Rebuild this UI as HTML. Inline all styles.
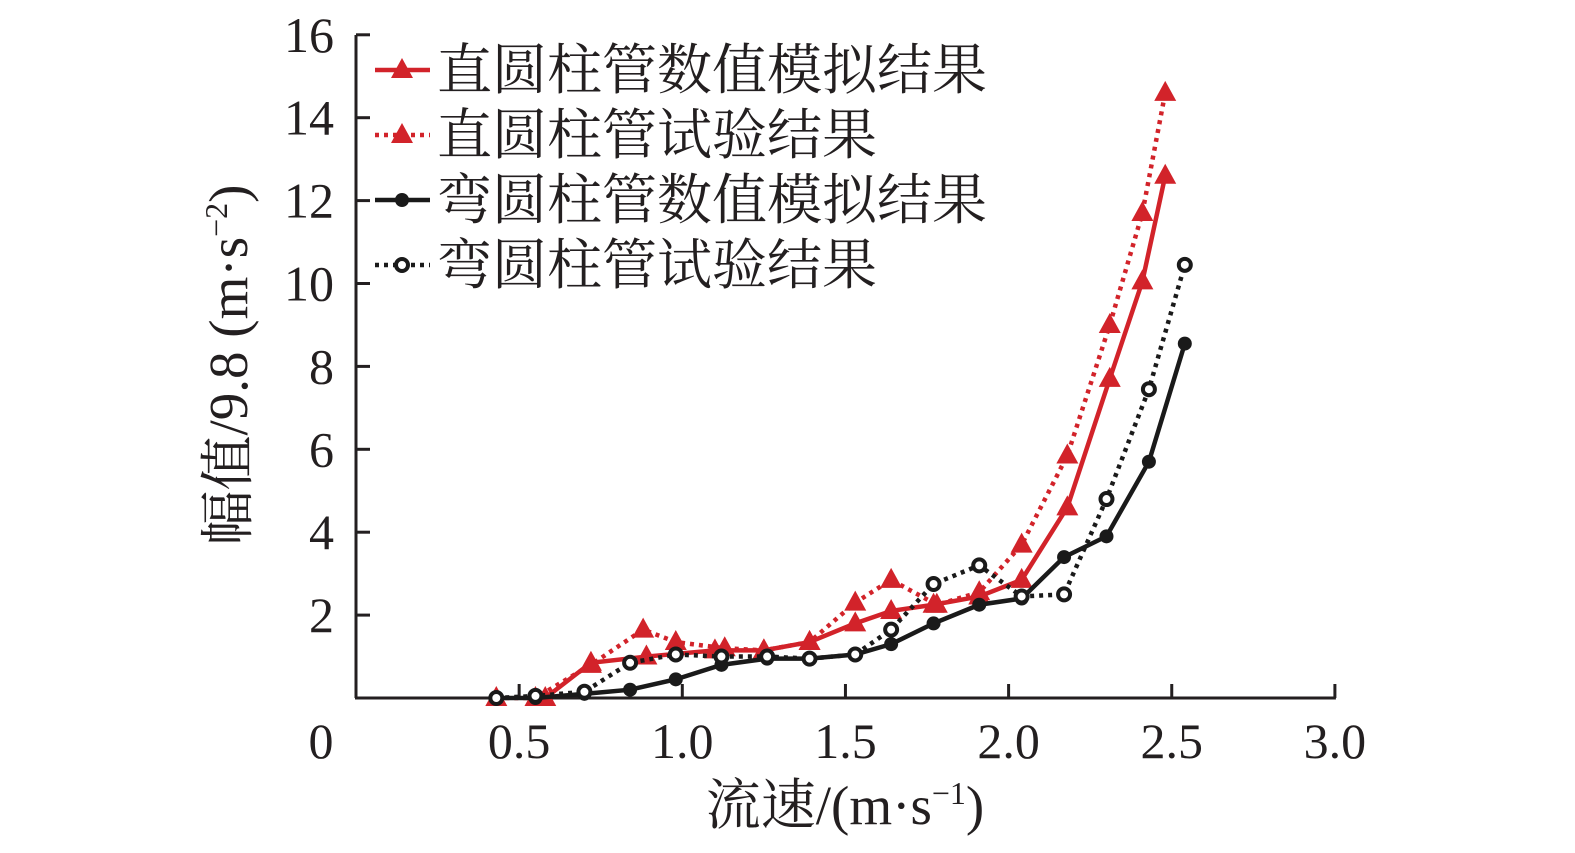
<!DOCTYPE html>
<html><head><meta charset="utf-8"><style>
body{margin:0;background:#fff;width:1575px;height:848px;overflow:hidden}
svg text{font-family:"Liberation Serif","Noto Serif CJK SC",serif;fill:#231f20}
</style></head><body>
<svg id="chart" width="1575" height="848" viewBox="0 0 1575 848" xmlns="http://www.w3.org/2000/svg">
<g id="axes"></g><g id="series"></g><g id="legend"></g>
</svg>
<script>
const xTicks=[0.5,1.0,1.5,2.0,2.5,3.0];
const xTickLabels=["0.5","1.0","1.5","2.0","2.5","3.0"];
const yTicks=[2,4,6,8,10,12,14,16];
const yTickLabels=["2","4","6","8","10","12","14","16"];
const redSolidX=[0.58,0.72,0.89,1.1,1.25,1.39,1.53,1.64,1.77,1.91,2.04,2.18,2.31,2.41,2.48];
const redSolidY=[0,0.85,1.0,1.15,1.15,1.35,1.8,2.1,2.25,2.45,2.85,4.6,7.7,10.05,12.6];
const redDotX=[0.43,0.55,0.72,0.88,0.98,1.13,1.25,1.39,1.53,1.64,1.78,1.91,2.04,2.18,2.31,2.41,2.48];
const redDotY=[0,0,0.8,1.65,1.35,1.2,1.15,1.35,2.3,2.85,2.25,2.55,3.7,5.85,9.0,11.7,14.6];
const blackSolidX=[0.43,0.55,0.70,0.84,0.98,1.12,1.26,1.39,1.53,1.64,1.77,1.91,2.04,2.17,2.30,2.43,2.54];
const blackSolidY=[0,0,0.1,0.2,0.45,0.8,0.95,0.95,1.05,1.3,1.8,2.25,2.4,3.4,3.9,5.7,8.55];
const blackDotX=[0.43,0.55,0.70,0.84,0.98,1.12,1.26,1.39,1.53,1.64,1.77,1.91,2.04,2.17,2.30,2.43,2.54];
const blackDotY=[0,0.05,0.15,0.85,1.05,1.0,1.0,0.95,1.05,1.65,2.75,3.2,2.45,2.5,4.8,7.45,10.45];
const legendLabels=["直圆柱管数值模拟结果","直圆柱管试验结果","弯圆柱管数值模拟结果","弯圆柱管试验结果"];

const NS="http://www.w3.org/2000/svg";
const X0=356,Y0=698,XS=326.3,YS=41.45;
const sx=v=>X0+v*XS, sy=v=>Y0-v*YS;
function mk(tag,attrs,parent){const e=document.createElementNS(NS,tag);for(const k in attrs)e.setAttribute(k,attrs[k]);parent.appendChild(e);return e;}
const axes=document.getElementById('axes'),ser=document.getElementById('series'),leg=document.getElementById('legend');

let a=mk('line',{x1:X0,y1:35,x2:X0,y2:Y0,stroke:'#231f20','stroke-width':3},axes);

a=mk('line',{x1:X0-1,y1:Y0,x2:sx(3.0)+1,y2:Y0,stroke:'#231f20','stroke-width':3},axes);

xTicks.forEach((v,i)=>{
 const t=mk('line',{x1:sx(v),y1:Y0,x2:sx(v),y2:Y0-14,stroke:'#231f20','stroke-width':3},axes);
 
 const l=mk('text',{x:sx(v),y:758,'text-anchor':'middle','font-size':50},axes);l.textContent=xTickLabels[i];
 
});
let z=mk('text',{x:321,y:758,'text-anchor':'middle','font-size':50},axes);z.textContent="0";

yTicks.forEach((v,i)=>{
 const t=mk('line',{x1:X0,y1:sy(v),x2:X0+14,y2:sy(v),stroke:'#231f20','stroke-width':3},axes);
 
 const l=mk('text',{x:334,y:sy(v)+17,'text-anchor':'end','font-size':50},axes);l.textContent=yTickLabels[i];
 
});
let xt=mk('text',{x:845,y:824,'text-anchor':'middle','font-size':55},axes);
xt.innerHTML='流速/(m·s<tspan dy="-20" font-size="32">−1</tspan><tspan dy="20">)</tspan>';

let yt=mk('text',{x:0,y:0,'text-anchor':'middle','font-size':55,transform:'translate(247,365) rotate(-90)'},axes);
yt.innerHTML='幅值/9.8 (m·s<tspan dy="-20" font-size="32">−2</tspan><tspan dy="20">)</tspan>';


function marker(type,x,y,color,g){
 let m;
 if(type==='tri')m=mk('polygon',{points:`${x},${y-12} ${x-11},${y+8} ${x+11},${y+8}`,fill:color},g);
 else if(type==='dot')m=mk('circle',{cx:x,cy:y,r:7,fill:color},g);
 else m=mk('circle',{cx:x,cy:y,r:6,fill:'#fff',stroke:color,'stroke-width':4},g);
 return m;
}
const defs=[
 {n:'red-solid-series',xs:redSolidX,ys:redSolidY,c:'#d2232a',dash:null,m:'tri'},
 {n:'red-dotted-series',xs:redDotX,ys:redDotY,c:'#d2232a',dash:'4 5',m:'tri'},
 {n:'black-solid-series',xs:blackSolidX,ys:blackSolidY,c:'#1a1a1a',dash:null,m:'dot'},
 {n:'black-dotted-series',xs:blackDotX,ys:blackDotY,c:'#1a1a1a',dash:'4 5',m:'ring'}
];
defs.forEach((d,si)=>{
 const g=mk('g',{},ser);
 const pts=d.xs.map((x,i)=>sx(x)+','+sy(d.ys[i])).join(' ');
 const p=mk('polyline',{points:pts,fill:'none',stroke:d.c,'stroke-width':4.5,'stroke-dasharray':d.dash||'none'},g);
 
 d.xs.forEach((x,i)=>{const m=marker(d.m,sx(x),sy(d.ys[i]),d.c,g);
  });
 const ly=[70,135,200,265][si];
 const lg=mk('g',{},leg);
 mk('line',{x1:375,y1:ly,x2:430,y2:ly,stroke:d.c,'stroke-width':4.5,'stroke-dasharray':d.dash||'none'},lg);
 marker(d.m,402,ly,d.c,lg);
 const t=mk('text',{x:437,y:ly+19,'font-size':55},lg);t.textContent=legendLabels[si];
});
</script>
</body></html>
